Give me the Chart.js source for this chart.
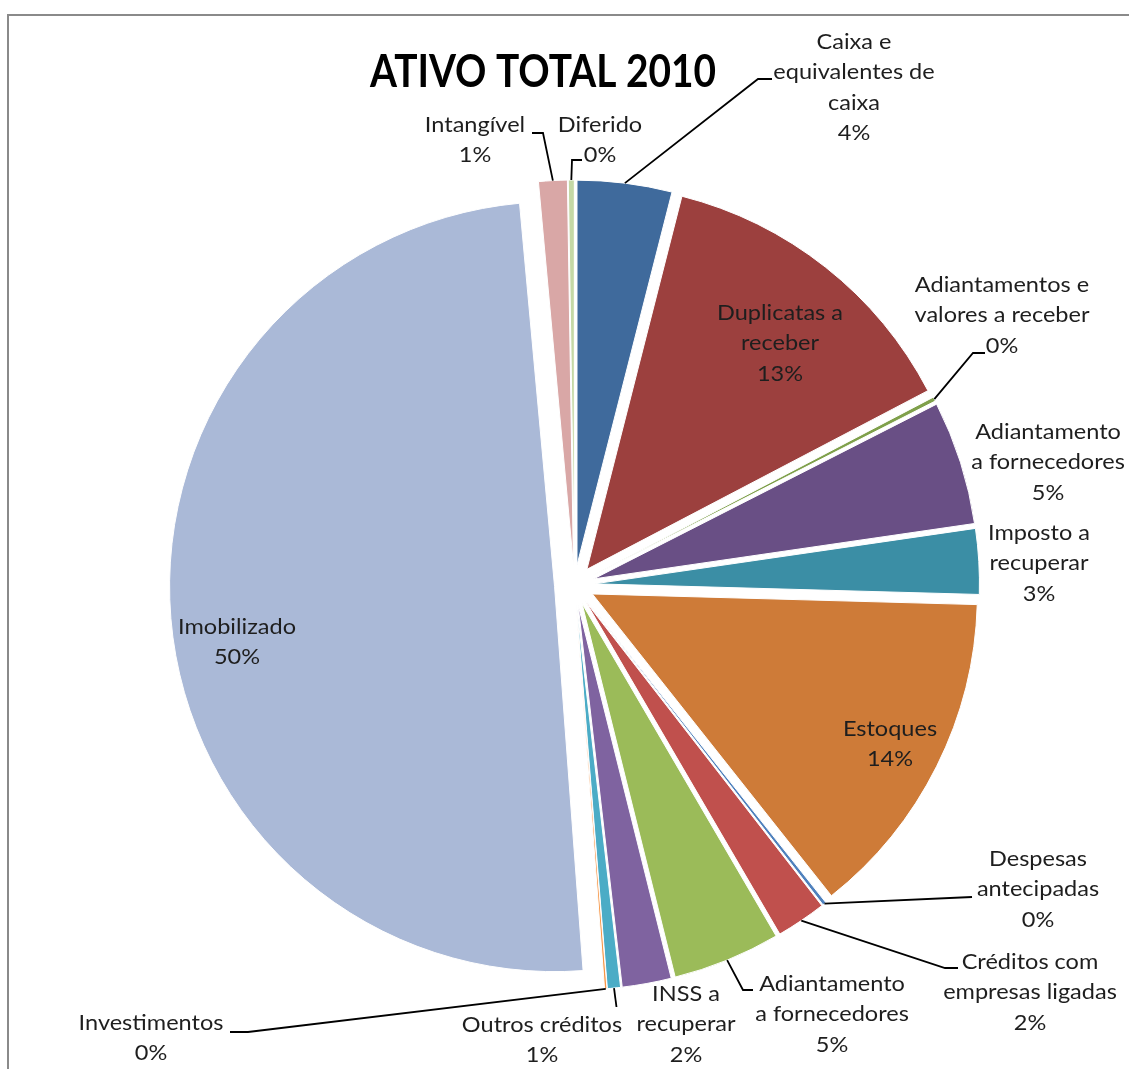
<!DOCTYPE html>
<html>
<head>
<meta charset="utf-8">
<script src="https://cdn.jsdelivr.net/npm/chart.js@4/dist/chart.umd.min.js"></script>
<style>
html,body{margin:0;padding:0;background:#fff;}
#wrap{width:1129px;height:1069px;position:relative;}
canvas{display:block;}
</style>
</head>
<body>
<div id="wrap"><canvas id="c" width="1129" height="1069"></canvas></div>
<script>
// ---- data ----
const chartTitle = 'ATIVO TOTAL 2010';
const categories = [
  'Caixa e\nequivalentes de\ncaixa',
  'Duplicatas a\nreceber',
  'Adiantamentos e\nvalores a receber',
  'Adiantamento\na fornecedores',
  'Imposto a\nrecuperar',
  'Estoques',
  'Despesas\nantecipadas',
  'Créditos com\nempresas ligadas',
  'Adiantamento\na fornecedores',
  'INSS a\nrecuperar',
  'Outros créditos',
  'Investimentos',
  'Imobilizado',
  'Intangível',
  'Diferido'
];
const values = [3.97, 13.35, 0.18, 5.2, 2.74, 13.9, 0.15, 2.1, 4.52, 2.06, 0.55, 0.1, 49.73, 1.2, 0.25];
const colors = ['#3F6A9C', '#9C403E', '#7FA04B', '#694F85', '#3B8EA5', '#CE7B38', '#4F81BD', '#C0504D',
                '#9BBB59', '#7F63A0', '#4BACC6', '#F79646', '#AAB9D7', '#D9A7A6', '#C4D8A5'];

// ---- layout (label placement relative to pie centre, leader elbows) ----
const labelLayout = [
  {dx: 279.5, dy: -543, leader: [[183.5, -506], [197.5, -506]]},
  {dx: 205.5, dy: -272},
  {dx: 427.5, dy: -300, leader: [[398.5, -232], [410.5, -232]]},
  {dx: 473.5, dy: -153},
  {dx: 464.5, dy: -52},
  {dx: 315.5, dy: 144},
  {dx: 463.5, dy: 274, leader: [[397.5, 312]]},
  {dx: 455.5, dy: 377, leader: [[370.5, 383], [383.5, 383]]},
  {dx: 257.5, dy: 399, leader: [[168.5, 405], [178.5, 405]]},
  {dx: 111.5, dy: 409},
  {dx: -32.5, dy: 440, leader: [[42, 422]]},
  {dx: -423.5, dy: 438, leader: [[-326.5, 447], [-344.5, 447]]},
  {dx: -337.5, dy: 42},
  {dx: -99.5, dy: -460, leader: [[-31.5, -452], [-42.5, -452]]},
  {dx: 25.5, dy: -460, leader: [[-2.5, -425], [7.5, -425]]}
];
const PIE_RADIUS = 385;
const EXPLODE = 20;
const LINE_H = 30.5;
const LABEL_FONT = '21px Lato';
const LABEL_STRETCH = 1.12;

const total = values.reduce((a, b) => a + b, 0);

const frame = {
  id: 'frame',
  beforeDraw(chart) {
    const ctx = chart.ctx;
    ctx.save();
    ctx.fillStyle = '#fff';
    ctx.fillRect(0, 0, chart.width, chart.height);
    ctx.strokeStyle = '#8a8a8a';
    ctx.lineWidth = 2;
    ctx.beginPath();
    ctx.moveTo(8, chart.height);
    ctx.lineTo(8, 15);
    ctx.lineTo(chart.width, 15);
    ctx.stroke();
    // title
    ctx.font = 'bold 45px Lato';
    const w = ctx.measureText(chartTitle).width;
    ctx.translate(543, 87);
    ctx.scale(346 / w, 1);
    ctx.fillStyle = '#000';
    ctx.textAlign = 'center';
    ctx.textBaseline = 'alphabetic';
    ctx.fillText(chartTitle, 0, 0);
    ctx.restore();
  }
};

const explode = {
  id: 'explode',
  afterDatasetsUpdate(chart) {
    const meta = chart.getDatasetMeta(0);
    meta.data.forEach(arc => {
      const mid = (arc.startAngle + arc.endAngle) / 2;
      arc.x += EXPLODE * Math.cos(mid);
      arc.y += EXPLODE * Math.sin(mid);
    });
  }
};

const sliceLabels = {
  id: 'sliceLabels',
  afterDatasetsDraw(chart) {
    const ctx = chart.ctx;
    const ca = chart.chartArea;
    const cx = (ca.left + ca.right) / 2;
    const cy = (ca.top + ca.bottom) / 2;
    const meta = chart.getDatasetMeta(0);
    ctx.save();
    ctx.font = LABEL_FONT;
    ctx.fillStyle = '#1e1e1e';
    ctx.strokeStyle = '#000';
    ctx.lineWidth = 1.8;
    ctx.textAlign = 'center';
    ctx.textBaseline = 'middle';
    meta.data.forEach((arc, i) => {
      const lay = labelLayout[i];
      if (lay.leader) {
        const mid = (arc.startAngle + arc.endAngle) / 2;
        const sx = arc.x + arc.outerRadius * Math.cos(mid);
        const sy = arc.y + arc.outerRadius * Math.sin(mid);
        ctx.beginPath();
        ctx.moveTo(sx, sy);
        lay.leader.forEach(p => ctx.lineTo(cx + p[0], cy + p[1]));
        ctx.stroke();
      }
      const pct = Math.round(values[i] / total * 100) + '%';
      const lines = categories[i].split('\n').concat([pct]);
      lines.forEach((t, k) => {
        ctx.save();
        ctx.translate(cx + lay.dx, cy + lay.dy + k * LINE_H);
        ctx.scale(LABEL_STRETCH, 1);
        ctx.fillText(t, 0, 0);
        ctx.restore();
      });
    });
    ctx.restore();
  }
};

new Chart(document.getElementById('c'), {
  type: 'pie',
  data: {
    labels: categories.map(s => s.replace(/\n/g, ' ')),
    datasets: [{
      data: values,
      backgroundColor: colors,
      borderColor: '#ffffff',
      borderWidth: 1
    }]
  },
  options: {
    responsive: false,
    devicePixelRatio: 1,
    animation: false,
    radius: PIE_RADIUS,
    rotation: 0,
    layout: {padding: {left: 30, right: 10, top: 111, bottom: 10}},
    plugins: {
      legend: {display: false},
      title: {display: false},
      tooltip: {enabled: false}
    }
  },
  plugins: [frame, explode, sliceLabels]
});
</script>
</body>
</html>
